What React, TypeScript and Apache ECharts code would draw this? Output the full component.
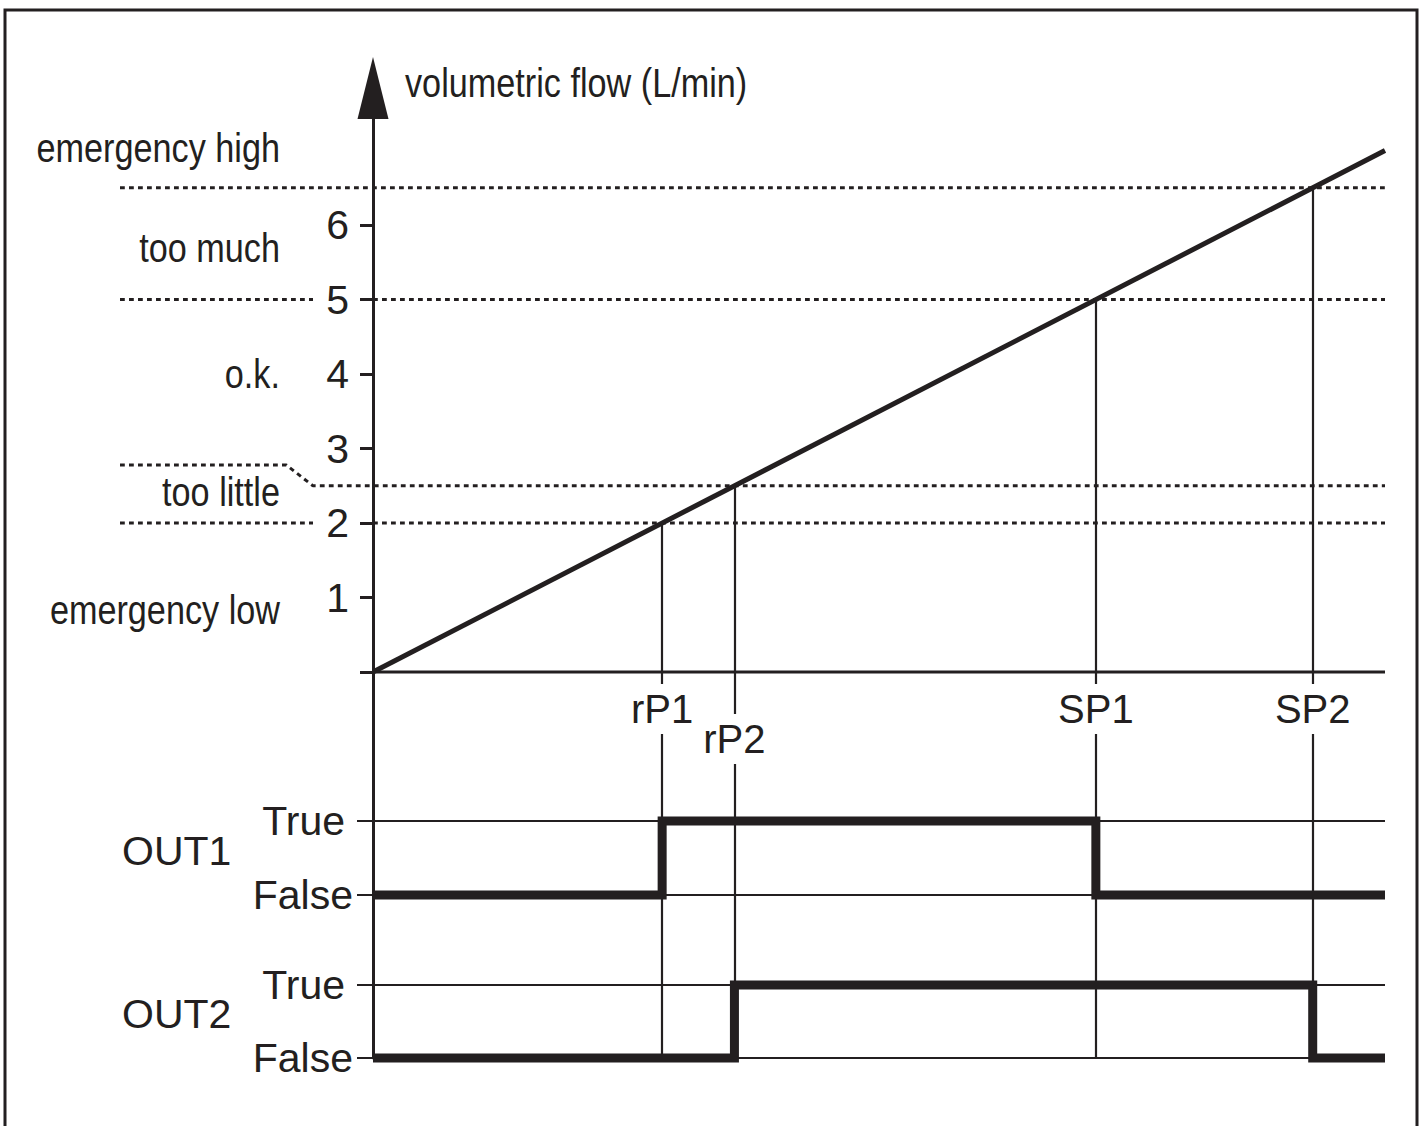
import React, { useEffect, useRef } from 'react';
import * as echarts from 'echarts';

// ---------- data ----------
const pointLabels = ['rP1', 'rP2', 'SP1', 'SP2'];
const pointValues = [2, 2.5, 5, 6.5];
const rampX = [0, 7];
const rampY = [0, 7];
const yTickLabelValues = [1, 2, 3, 4, 5, 6];
const yTickValues = [0, 1, 2, 3, 4, 5, 6];
const zoneLabels = ['emergency high', 'too much', 'o.k.', 'too little', 'emergency low'];
const zoneLabelY = [7.04, 5.7, 4.0, 2.42, 0.83];
const outNames = ['OUT1', 'OUT2'];
const stateLabels = ['False', 'True'];
const out1Switch = [2, 5]; // on at rP1, off at SP1
const out2Switch = [2.5, 6.5]; // on at rP2, off at SP2
const axisName = 'volumetric flow (L/min)';

// ---------- layout / style ----------
const INK = '#231f20';
const FONT = '"Liberation Sans", Arial, Helvetica, sans-serif';
const GRID_RIGHT = 41;
const TOP_GRID_LEFT = 120;
const OUT_GRID_LEFT = 373;
const X_MAX = 7;
const X_MIN_TOP = -1.75;
const Y_MIN = -5.18;
const Y_MAX = 7.84;
const LABEL_GAP_X = -0.415;
const BEND_START_X = -0.6;
const BEND_Y = 2.78;
const COND = 0.835;
const LOWER_LABELS = ['rP2'];
const Y_LABEL_GAP = 24;

const dottedKind: Record<string, string> = { rP1: 'gap', rP2: 'bend', SP1: 'gap', SP2: 'full' };

function stepData(sw: number[]) {
  const [on, off] = sw;
  return [[0, 0], [on, 0], [on, 1], [off, 1], [off, 0], [X_MAX, 0]];
}

function dotted(data: number[][]) {
  return {
    type: 'line',
    xAxisIndex: 0,
    yAxisIndex: 0,
    data,
    symbol: 'none',
    clip: false,
    silent: true,
    z: 1,
    lineStyle: { color: INK, width: 3, type: [4.8, 4.2] },
    emphasis: { disabled: true },
  };
}

export default function App() {
  const ref = useRef<HTMLDivElement>(null);
  useEffect(() => {
    if (!ref.current) return;
    const chart = echarts.init(ref.current, undefined, { renderer: 'svg' });

    const dottedSeries: any[] = [];
    pointLabels.forEach((lab, i) => {
      const v = pointValues[i];
      const kind = dottedKind[lab];
      if (kind === 'full') {
        dottedSeries.push(dotted([[X_MIN_TOP, v], [X_MAX, v]]));
      } else if (kind === 'gap') {
        dottedSeries.push(dotted([[X_MIN_TOP, v], [LABEL_GAP_X, v]]));
        dottedSeries.push(dotted([[0, v], [X_MAX, v]]));
      } else {
        dottedSeries.push(
          dotted([[X_MIN_TOP, BEND_Y], [BEND_START_X, BEND_Y], [LABEL_GAP_X, v], [X_MAX, v]])
        );
      }
    });

    const outYAxis = (g: number) => ({
      gridIndex: g,
      type: 'value',
      min: 0,
      max: 1,
      interval: 1,
      axisLine: { show: false },
      axisTick: { show: true, length: 16, lineStyle: { color: INK, width: 2 } },
      splitLine: { show: true, lineStyle: { color: INK, width: 2 } },
      axisLabel: {
        margin: 20,
        color: INK,
        fontSize: 41,
        fontFamily: FONT,
        formatter: (v: number) => (v === 1 ? '{t|' + stateLabels[1] + '}' : '{f|' + stateLabels[0] + '}'),
        rich: {
          t: { fontSize: 41, fontFamily: FONT, color: INK, padding: [0, 8, 0, 0] },
          f: { fontSize: 41, fontFamily: FONT, color: INK },
        },
      },
    });

    const stepSeries = (g: number, sw: number[]) => ({
      type: 'line',
      xAxisIndex: g,
      yAxisIndex: g,
      data: stepData(sw),
      symbol: 'none',
      clip: false,
      silent: true,
      z: 5,
      lineStyle: { color: INK, width: 9, join: 'miter', cap: 'butt' },
      emphasis: { disabled: true },
    });

    const option: any = {
      animation: false,
      backgroundColor: '#ffffff',
      grid: [
        { left: TOP_GRID_LEFT, right: GRID_RIGHT, top: 88, bottom: 68 },
        { left: OUT_GRID_LEFT, right: GRID_RIGHT, top: 821, bottom: 231 },
        { left: OUT_GRID_LEFT, right: GRID_RIGHT, top: 985, bottom: 68 },
      ],
      xAxis: [
        {
          gridIndex: 0,
          type: 'value',
          min: X_MIN_TOP,
          max: X_MAX,
          axisLine: { show: false },
          axisTick: { show: false },
          axisLabel: { show: false },
          splitLine: { show: false },
        },
        { gridIndex: 1, type: 'value', min: 0, max: X_MAX, show: false },
        { gridIndex: 2, type: 'value', min: 0, max: X_MAX, show: false },
      ],
      yAxis: [
        {
          gridIndex: 0,
          type: 'value',
          min: Y_MIN,
          max: Y_MAX,
          z: 4,
          axisLine: {
            show: true,
            onZero: true,
            symbol: ['none', 'triangle'],
            symbolSize: [31, 62],
            lineStyle: { color: INK, width: 3 },
          },
          axisTick: {
            show: true,
            customValues: yTickValues,
            length: 13,
            lineStyle: { color: INK, width: 3 },
          },
          axisLabel: {
            customValues: yTickLabelValues,
            margin: Y_LABEL_GAP - (OUT_GRID_LEFT - TOP_GRID_LEFT),
            color: INK,
            fontSize: 41,
            fontFamily: FONT,
          },
          splitLine: { show: false },
        },
        outYAxis(1),
        outYAxis(2),
      ],
      series: [
        ...dottedSeries,
        {
          // horizontal (flow) axis base line
          type: 'line',
          xAxisIndex: 0,
          yAxisIndex: 0,
          data: [[0, 0], [X_MAX, 0]],
          symbol: 'none',
          silent: true,
          z: 2,
          lineStyle: { color: INK, width: 3 },
          emphasis: { disabled: true },
        },
        {
          type: 'line',
          xAxisIndex: 0,
          yAxisIndex: 0,
          data: rampX.map((x, i) => [x, rampY[i]]),
          symbol: 'none',
          clip: false,
          silent: true,
          z: 3,
          lineStyle: { color: INK, width: 5 },
          emphasis: { disabled: true },
          markLine: {
            silent: true,
            symbol: ['none', 'none'],
            label: { show: false },
            emphasis: { disabled: true },
            lineStyle: { type: 'solid', width: 2.2, color: INK },
            data: pointValues.map((v) => [{ coord: [v, v] }, { coord: [v, Y_MIN] }]),
          },
        },
        stepSeries(1, out1Switch),
        stepSeries(2, out2Switch),
      ],
    };
    chart.setOption(option);

    const px = (g: number, p: number[]) => chart.convertToPixel({ gridIndex: g } as any, p) as number[];
    const origin = px(0, [0, 0]);
    const top = px(0, [0, Y_MAX]);
    const graphics: any[] = [];
    graphics.push({
      type: 'rect',
      silent: true,
      z: 0,
      shape: { x: 5, y: 10, width: 1412, height: 1300 },
      style: { fill: 'none', stroke: INK, lineWidth: 3 },
    });
    graphics.push({
      type: 'text',
      silent: true,
      z: 100,
      x: origin[0] + 32,
      y: top[1] - 5.5,
      scaleX: COND,
      style: {
        text: axisName,
        fontSize: 41,
        fontFamily: FONT,
        fill: INK,
        align: 'left',
        verticalAlign: 'middle',
      },
    });
    zoneLabels.forEach((t, i) => {
      const p = px(0, [0, zoneLabelY[i]]);
      graphics.push({
        type: 'text',
        silent: true,
        z: 100,
        x: origin[0] - 93,
        y: p[1],
        scaleX: COND,
        style: { text: t, fontSize: 41, fontFamily: FONT, fill: INK, align: 'right', verticalAlign: 'middle' },
      });
    });
    outNames.forEach((t, i) => {
      const p = px(i + 1, [0, 0.6]);
      graphics.push({
        type: 'text',
        silent: true,
        z: 100,
        x: origin[0] - 251,
        y: p[1],
        style: { text: t, fontSize: 41, fontFamily: FONT, fill: INK, align: 'left', verticalAlign: 'middle' },
      });
    });
    pointLabels.forEach((t, i) => {
      const p = px(0, [pointValues[i], 0]);
      const lower = LOWER_LABELS.indexOf(t) >= 0;
      graphics.push({
        type: 'text',
        silent: true,
        z: 100,
        x: p[0],
        y: origin[1] + (lower ? 67 : 37),
        style: {
          text: t,
          fontSize: 40,
          fontFamily: FONT,
          fill: INK,
          align: 'center',
          verticalAlign: 'middle',
          backgroundColor: '#ffffff',
          padding: [5, 3],
        },
      });
    });
    chart.setOption({ graphic: graphics });

    return () => chart.dispose();
  }, []);

  return (
    <div
      ref={ref}
      style={{ position: 'fixed', left: 0, top: 0, width: 1426, height: 1126, background: '#fff' }}
    />
  );
}
